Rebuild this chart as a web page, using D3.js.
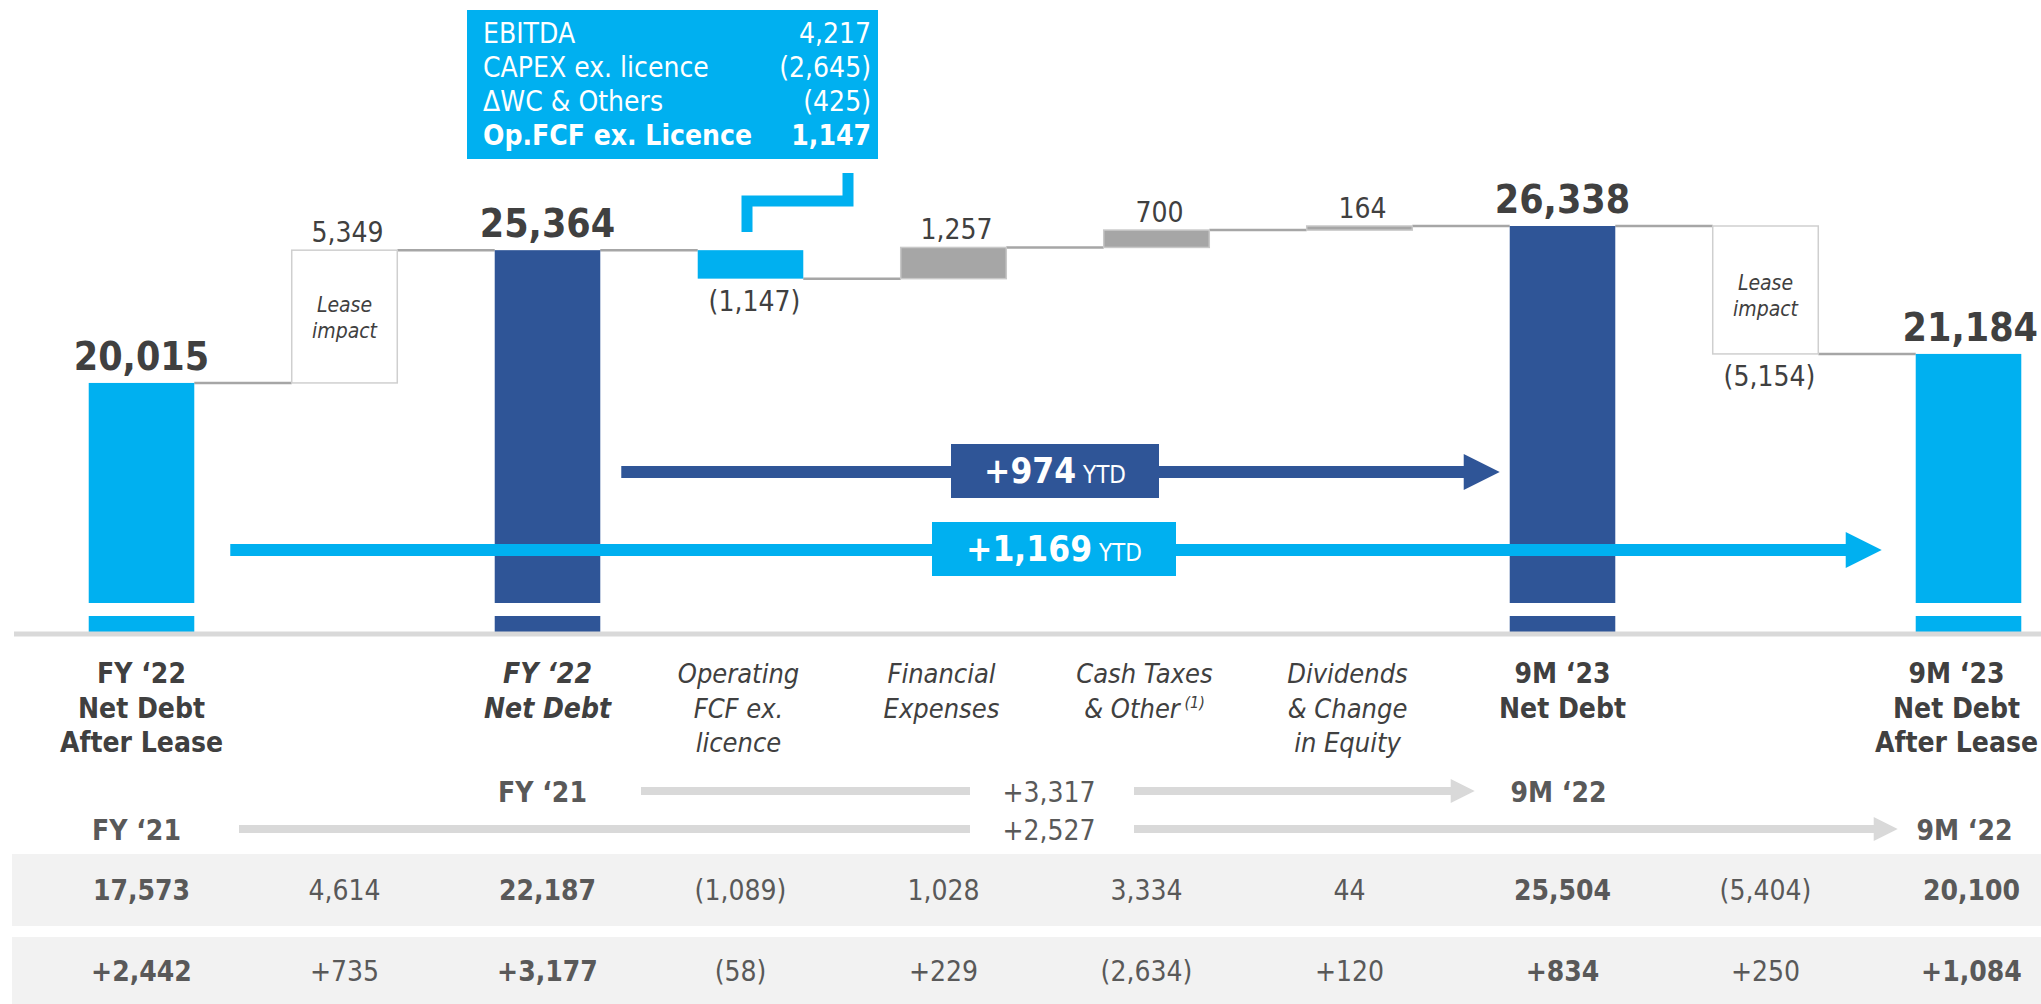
<!DOCTYPE html>
<html>
<head>
<meta charset="utf-8">
<script src="https://cdn.jsdelivr.net/npm/d3@7"></script>
<style>
  body { margin: 0; background: #fff; }
  svg { display: block; font-family: 'Liberation Sans Narrow', 'DejaVu Sans Condensed', 'Liberation Sans', sans-serif; }
</style>
</head>
<body>
<svg id="chart" width="2041" height="1004"></svg>
<script>
const categories = [
  ['FY ‘22', 'Net Debt', 'After Lease'],
  [],
  ['FY ‘22', 'Net Debt'],
  ['Operating', 'FCF ex.', 'licence'],
  ['Financial', 'Expenses'],
  ['Cash Taxes', '& Other'],
  ['Dividends', '& Change', 'in Equity'],
  ['9M ‘23', 'Net Debt'],
  [],
  ['9M ‘23', 'Net Debt', 'After Lease']
]
const kinds = ['total', 'lease', 'total', 'fcf', 'step', 'step', 'step', 'total', 'lease', 'total']
const values = [20015, 5349, 25364, -1147, 1257, 700, 164, 26338, -5154, 21184]
const prevValues = [17573, 4614, 22187, -1089, 1028, 3334, 44, 25504, -5404, 20100]
const yoyChange = [2442, 735, 3177, -58, 229, -2634, 120, 834, 250, 1084]
const fcfItems = ['EBITDA', 'CAPEX ex. licence', 'ΔWC & Others']
const fcfValues = [4217, -2645, -425]
const fcfTotalLabel = 'Op.FCF ex. Licence'

const width = 2041
const height = 1004
const svg = d3.select('#chart')

const cyan = '#00b0f0'
const navy = '#2f5597'
const grey = '#a6a6a6'
const ink = '#404040'
const soft = '#595959'

const fmt = d3.format(',')
const paren = v => v < 0 ? `(${fmt(-v)})` : fmt(v)
const signed = v => v < 0 ? `(${fmt(-v)})` : `+${fmt(v)}`

// running start/end of each waterfall step
const bars = []
let level = 0
values.forEach((v, i) => {
  if (kinds[i] === 'total') {
    bars.push({ i, start: 0, end: v, v })
    level = v
  } else {
    bars.push({ i, start: level, end: level + v, v })
    level += v
  }
})

const x = d3.scaleBand()
  .domain(d3.range(values.length))
  .range([40, 2070])
  .paddingInner(0.48)
  .paddingOuter(0.24)
const bw = x.bandwidth()
const cx = i => x(i) + bw / 2

const axisY = 634
const y = d3.scaleLinear().domain([9900, 26338]).range([axisY, 226])

const fillOf = d => {
  if (d.i === 0 || d.i === 9 || kinds[d.i] === 'fcf') return cyan
  if (kinds[d.i] === 'total') return navy
  if (kinds[d.i] === 'lease') return '#fff'
  return grey
}

// connectors
const conn = svg.append('g')
bars.slice(0, -1).forEach((d, k) => {
  conn.append('line')
    .attr('x1', x(k) + bw).attr('x2', x(k + 1))
    .attr('y1', y(d.end)).attr('y2', y(d.end))
    .attr('stroke', grey).attr('stroke-width', 2.5)
})

// bars
svg.append('g').selectAll('rect')
  .data(bars)
  .join('rect')
  .attr('x', d => x(d.i))
  .attr('width', bw)
  .attr('y', d => kinds[d.i] === 'total' ? y(d.end) : y(Math.max(d.start, d.end)))
  .attr('height', d => kinds[d.i] === 'total' ? axisY - y(d.end) : Math.abs(y(d.start) - y(d.end)))
  .attr('fill', fillOf)
  .attr('stroke', d => kinds[d.i] === 'lease' ? '#cfcfcf' : (kinds[d.i] === 'step' ? '#c8c8c8' : 'none'))
  .attr('stroke-width', 1.5)

// axis break on the total bars
svg.append('g').selectAll('rect')
  .data(bars.filter(d => kinds[d.i] === 'total'))
  .join('rect')
  .attr('x', d => x(d.i) - 2)
  .attr('width', bw + 4)
  .attr('y', 603)
  .attr('height', 13)
  .attr('fill', '#fff')

// base line
svg.append('line')
  .attr('x1', 14).attr('x2', width)
  .attr('y1', axisY).attr('y2', axisY)
  .attr('stroke', '#d9d9d9').attr('stroke-width', 5)

// value labels
const vlab = svg.append('g')
bars.forEach(d => {
  const top = y(Math.max(d.start, d.end))
  const bot = y(Math.min(d.start, d.end))
  if (kinds[d.i] === 'total') {
    vlab.append('text')
      .attr('x', cx(d.i) + (d.i === 9 ? 2 : 0)).attr('y', top - 13)
      .attr('text-anchor', 'middle')
      .attr('font-size', 39).attr('font-weight', 'bold').attr('fill', ink)
      .text(fmt(d.v))
  } else if (d.v > 0) {
    vlab.append('text')
      .attr('x', cx(d.i) + 3).attr('y', top - 8)
      .attr('text-anchor', 'middle')
      .attr('font-size', 28).attr('fill', ink)
      .text(paren(d.v))
  } else {
    vlab.append('text')
      .attr('x', cx(d.i) + 4).attr('y', bot + 32)
      .attr('text-anchor', 'middle')
      .attr('font-size', 28).attr('fill', ink)
      .text(paren(d.v))
  }
  if (kinds[d.i] === 'lease') {
    const t = vlab.append('text')
      .attr('text-anchor', 'middle')
      .attr('font-size', 21).attr('font-style', 'italic').attr('fill', ink)
    t.append('tspan').attr('x', cx(d.i)).attr('y', d.v > 0 ? top + 62 : top + 64).text('Lease')
    t.append('tspan').attr('x', cx(d.i)).attr('dy', 26).text('impact')
  }
})

// op FCF breakdown box
const box = svg.append('g')
box.append('rect')
  .attr('x', 467).attr('y', 10).attr('width', 411).attr('height', 149)
  .attr('fill', cyan)
fcfItems.forEach((name, k) => {
  box.append('text').attr('x', 483).attr('y', 43 + k * 34)
    .attr('font-size', 28).attr('fill', '#fff').text(name)
  box.append('text').attr('x', 871).attr('y', 43 + k * 34)
    .attr('text-anchor', 'end')
    .attr('font-size', 28).attr('fill', '#fff').text(paren(fcfValues[k]))
})
box.append('text').attr('x', 483).attr('y', 145)
  .attr('font-size', 28).attr('font-weight', 'bold').attr('fill', '#fff').text(fcfTotalLabel)
box.append('text').attr('x', 871).attr('y', 145)
  .attr('text-anchor', 'end')
  .attr('font-size', 28).attr('font-weight', 'bold').attr('fill', '#fff')
  .text(fmt(d3.sum(fcfValues)))
box.append('path')
  .attr('d', `M848,173 V201 H747 V232`)
  .attr('fill', 'none').attr('stroke', cyan).attr('stroke-width', 11)

// YTD arrows
function ytdArrow (from, to, yy, x0, x1, color, bx, bw2) {
  const g = svg.append('g')
  const half = 6
  const head = 18
  const tip = x1
  const base = tip - 36
  g.append('path')
    .attr('d', `M${x0},${yy - half} H${base} V${yy - head} L${tip},${yy} L${base},${yy + head} V${yy + half} H${x0} Z`)
    .attr('fill', color)
  g.append('rect')
    .attr('x', bx).attr('y', yy - 28).attr('width', bw2).attr('height', 54)
    .attr('fill', color)
  const t = g.append('text')
    .attr('x', bx + bw2 / 2).attr('y', yy + 11)
    .attr('text-anchor', 'middle').attr('fill', '#fff')
  t.append('tspan').attr('font-size', 35).attr('font-weight', 'bold').text(signed(values[to] - values[from]))
  t.append('tspan').attr('font-size', 24).text(' YTD')
}
ytdArrow(2, 7, 472, x(2) + bw + 21, x(7) - 10, navy, 951, 208)
ytdArrow(0, 9, 550, x(0) + bw + 36, x(9) - 34, cyan, 932, 244)

// prior-year comparison arrows
function yoyRow (from, to, yy, lineEnd, startX) {
  const g = svg.append('g')
  const lightGrey = '#d9d9d9'
  g.append('text')
    .attr('x', cx(from) - 5).attr('y', yy + 11)
    .attr('text-anchor', 'middle')
    .attr('font-size', 28).attr('font-weight', 'bold').attr('fill', soft)
    .text('FY ‘21')
  g.append('rect')
    .attr('x', startX).attr('y', yy - 4).attr('width', 970 - startX).attr('height', 8)
    .attr('fill', lightGrey)
  g.append('text')
    .attr('x', 1049).attr('y', yy + 11)
    .attr('text-anchor', 'middle')
    .attr('font-size', 28).attr('fill', soft)
    .text(signed(prevValues[to] - prevValues[from]))
  const base = lineEnd - 24
  g.append('path')
    .attr('d', `M1134,${yy - 4} H${base} V${yy - 12} L${lineEnd},${yy} L${base},${yy + 12} V${yy + 4} H1134 Z`)
    .attr('fill', lightGrey)
  g.append('text')
    .attr('x', cx(to) - 4).attr('y', yy + 11)
    .attr('text-anchor', 'middle')
    .attr('font-size', 28).attr('font-weight', 'bold').attr('fill', soft)
    .text('9M ‘22')
}
yoyRow(2, 7, 791, x(7) - 35, 641)
yoyRow(0, 9, 829, x(9) - 18, 239)

// category labels
const italicCols = d => kinds[d] === 'fcf' || kinds[d] === 'step'
categories.forEach((lines, i) => {
  if (!lines.length) return
  const it = italicCols(i)
  const t = svg.append('text')
    .attr('class', 'cat')
    .attr('text-anchor', 'middle')
    .attr('font-size', it ? 27 : 28)
    .attr('font-weight', it ? 'normal' : 'bold')
    .attr('font-style', it || i === 2 ? 'italic' : 'normal')
    .attr('fill', ink)
  lines.forEach((ln, k) => {
    const ts = t.append('tspan').attr('x', cx(i) + (it ? -12 : 0)).attr('y', 683 + k * 34.5).text(ln)
    if (i === 5 && k === 1) {
      ts.append('tspan').attr('font-size', 16).attr('dy', -10).text(' (1)')
    }
  })
})

// table rows
const rows = [
  { y0: 854, y1: 926, vals: prevValues.map(paren) },
  { y0: 937, y1: 1004, vals: yoyChange.map(signed) }
]
rows.forEach(r => {
  svg.append('rect')
    .attr('x', 12).attr('y', r.y0).attr('width', width - 12).attr('height', r.y1 - r.y0)
    .attr('fill', '#f2f2f2')
  svg.append('g').selectAll('text')
    .data(r.vals)
    .join('text')
    .attr('x', (d, i) => cx(i) + (italicCols(i) ? -10 : 0) + (i === 9 ? 3 : 0))
    .attr('y', (r.y0 + r.y1) / 2 + 10)
    .attr('text-anchor', 'middle')
    .attr('font-size', 28)
    .attr('font-weight', (d, i) => kinds[i] === 'total' ? 'bold' : 'normal')
    .attr('fill', soft)
    .text(d => d)
})

// keep texts inside the right edge
svg.selectAll('text').each(function () {
  const b = this.getBBox()
  const over = b.x + b.width - (width - 3)
  if (over > 0) d3.select(this).attr('transform', `translate(${-over},0)`)
})
</script>
</body>
</html>
